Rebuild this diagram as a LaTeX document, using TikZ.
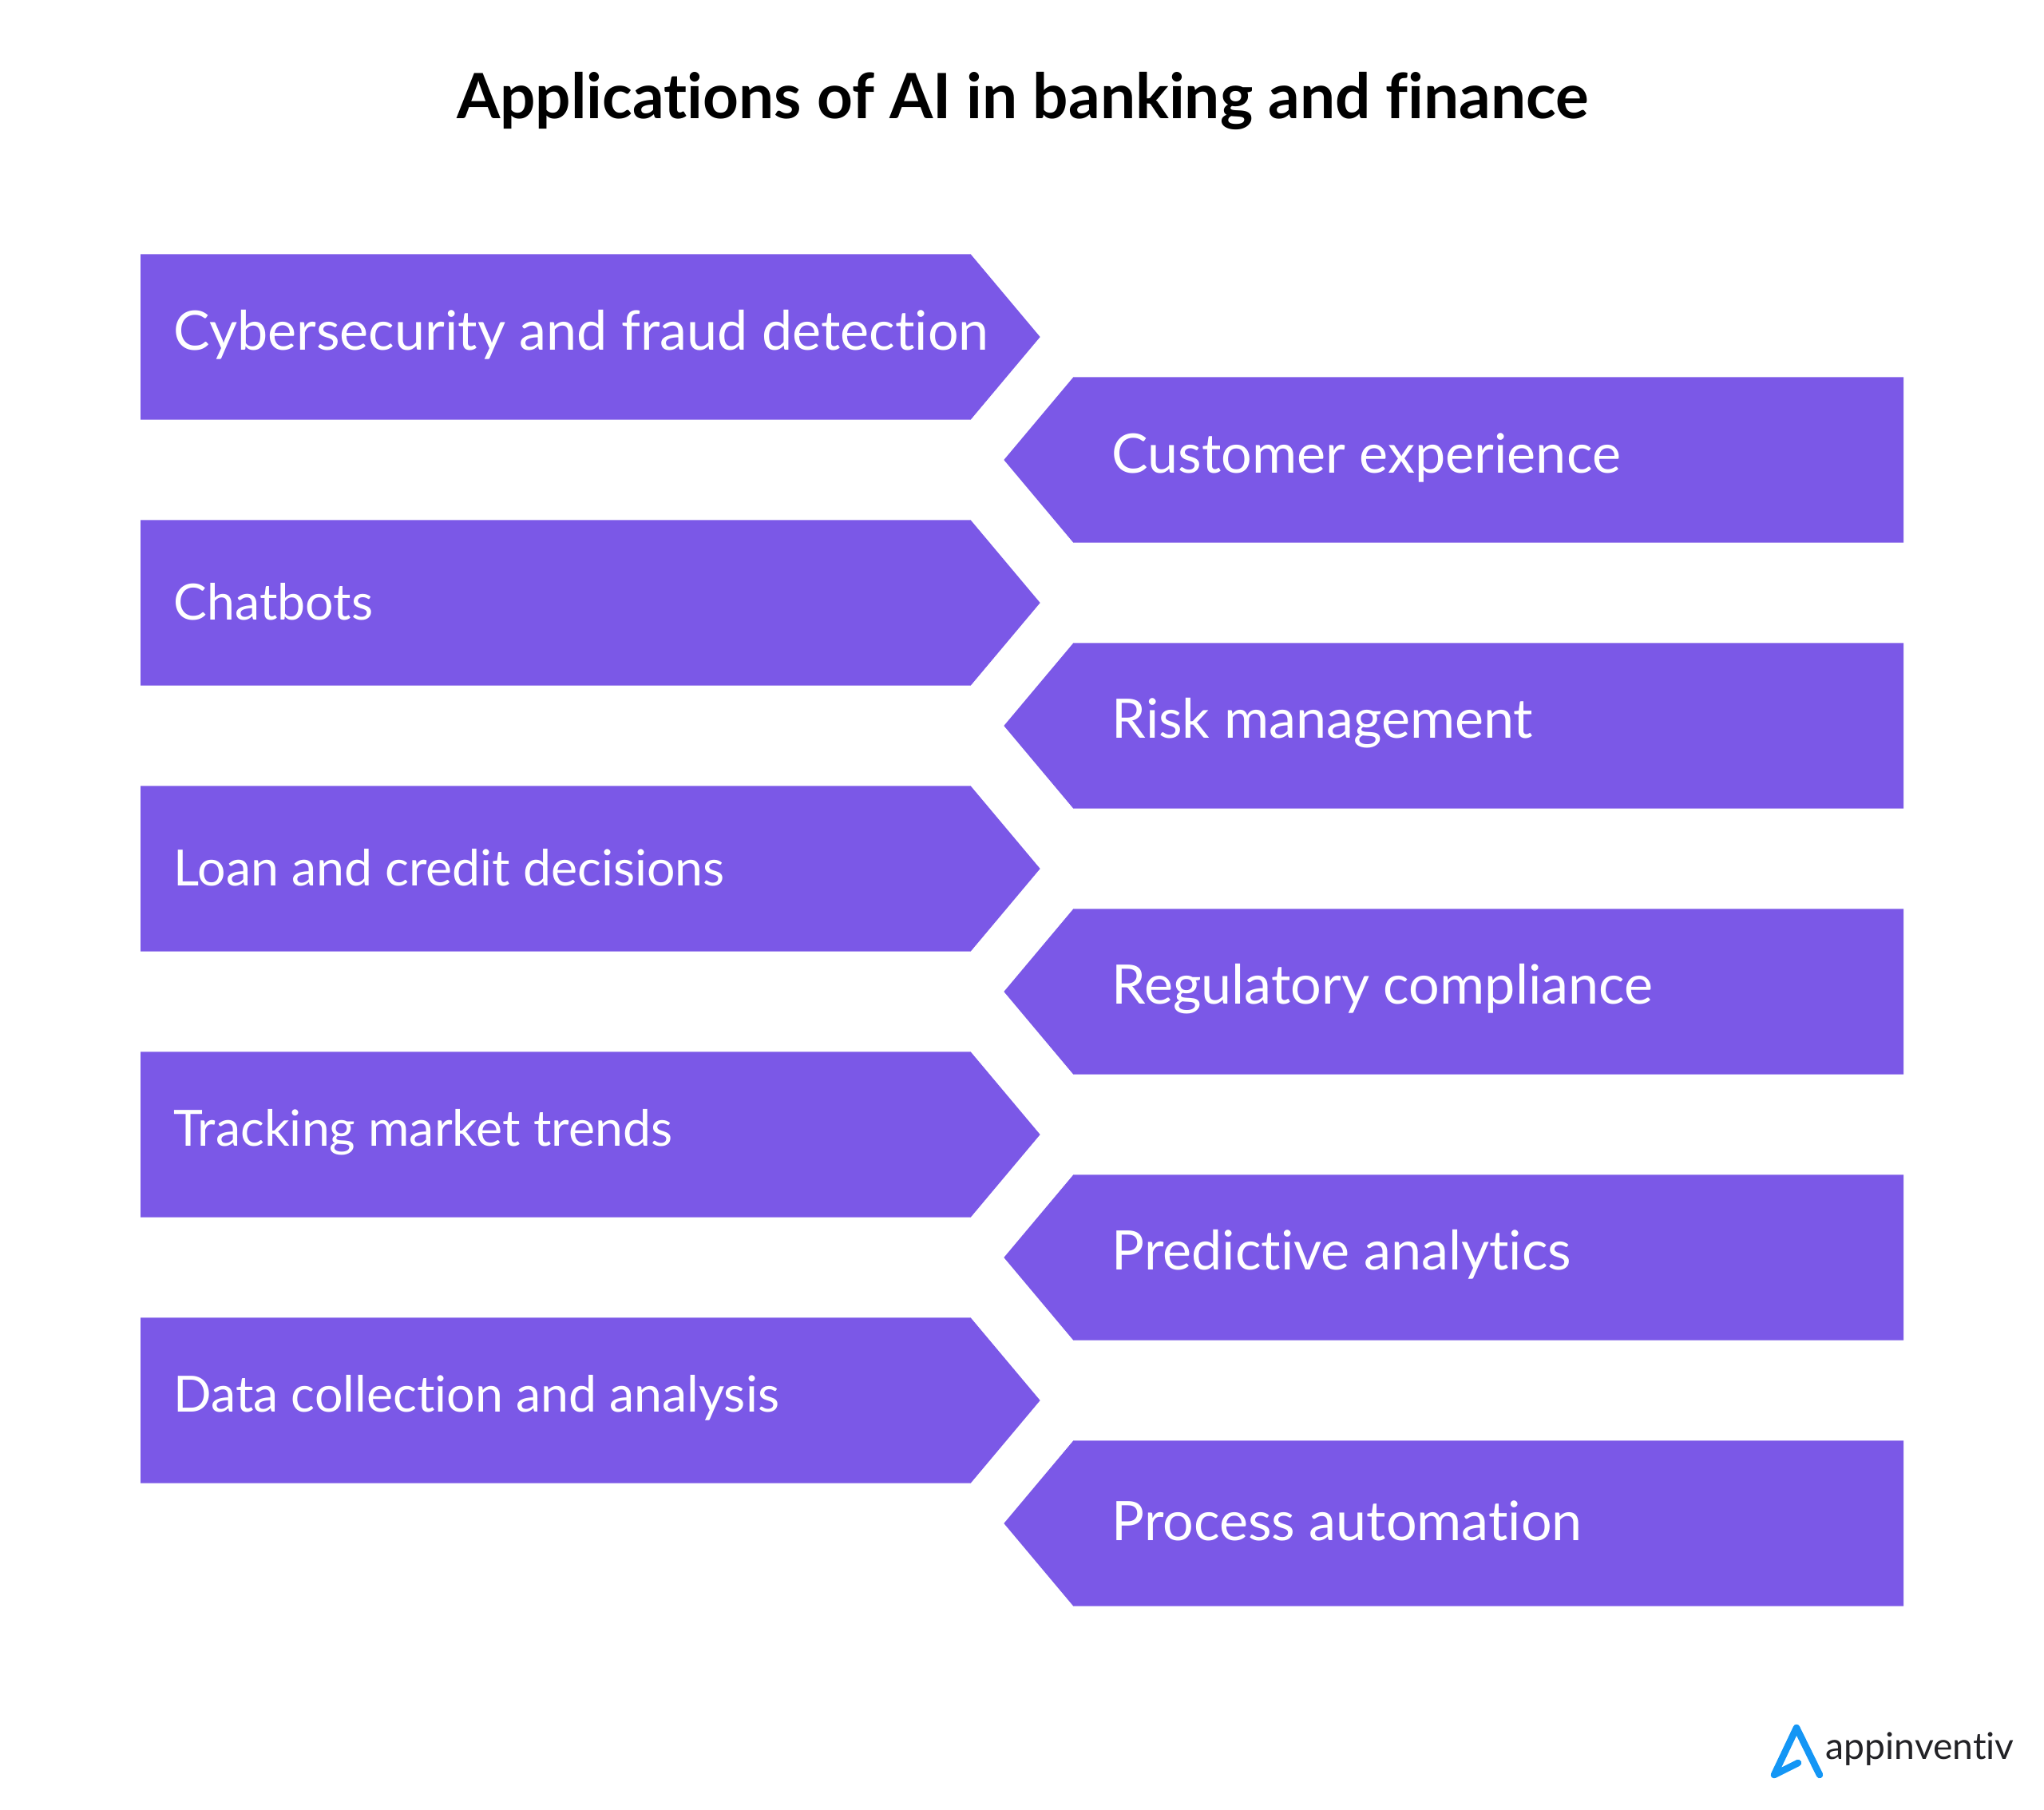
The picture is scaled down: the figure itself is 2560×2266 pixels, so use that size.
\documentclass[tikz,border=0pt]{standalone}
\usepackage{fontspec}
\setmainfont{Lato}[Ligatures=NoCommon]
\usetikzlibrary{shapes.symbols}
\definecolor{jviolet}{RGB}{123,88,231}
\definecolor{jsky}{RGB}{20,150,245}
\definecolor{jink}{RGB}{34,34,38}
\tikzset{x=0.01cm, y=-0.01cm,
  banner/.style={signal, fill=jviolet, signal from=nowhere, signal pointer angle=100,
    minimum width=11.26cm, minimum height=2.07cm, inner sep=0pt, outer sep=0pt},
  toright/.style={banner, signal to=east},
  toleft/.style={banner, signal to=west},
  caption/.style={anchor=base west, inner sep=0pt, text=white, font=\fontsize{19.4}{24}\selectfont},
  smallcaption/.style={caption, font=\fontsize{17.8}{22}\selectfont},
  mainhead/.style={anchor=base, inner sep=0pt, font=\fontsize{22.25}{28}\selectfont\bfseries}}
\begin{document}
\begin{tikzpicture}
\useasboundingbox (0,0) rectangle (2560,2266);
\node[mainhead] (head) at (1281,148) {Applications of AI in banking and finance};
% left column
\node[toright, anchor=west] (cyber) at (176,422) {};
\node[toright, anchor=west] (chat) at (176,755) {};
\node[toright, anchor=west] (loan) at (176,1088) {};
\node[toright, anchor=west] (market) at (176,1421) {};
\node[toright, anchor=west] (data) at (176,1754) {};
% right column
\node[toleft, anchor=east] (customer) at (2384,576) {};
\node[toleft, anchor=east] (risk) at (2384,909) {};
\node[toleft, anchor=east] (regulatory) at (2384,1242) {};
\node[toleft, anchor=east] (predictive) at (2384,1575) {};
\node[toleft, anchor=east] (process) at (2384,1908) {};
% captions
\node[caption] (cybertext) at (217,438) {Cybersecurity and fraud detection};
\node[smallcaption] (chattext) at (217,776) {Chatbots};
\node[smallcaption] (loantext) at (217,1109) {Loan and credit decisions};
\node[smallcaption] (markettext) at (217,1435) {Tracking market trends};
\node[smallcaption] (datatext) at (217,1768) {Data collection and analysis};
\node[caption] (customertext) at (1392,592) {Customer experience};
\node[caption] (risktext) at (1392,924) {Risk management};
\node[caption] (regulatorytext) at (1392,1257) {Regulatory compliance};
\node[caption] (predictivetext) at (1392,1590) {Predictive analytics};
\node[caption] (processtext) at (1392,1929) {Process automation};
% logo
\coordinate (logoa) at (2252,2208);
\coordinate (logob) at (2222,2223);
\coordinate (logoc) at (2250,2164);
\coordinate (logod) at (2279,2223);
\draw[jsky, line width=0.085cm, line cap=round, line join=round]
  (logoa) -- (logob) -- (logoc) -- (logod);
\node[anchor=base west, inner sep=0pt, text=jink, font=\fontsize{13.15}{16}\selectfont] (brand) at (2286,2203) {appinventiv};
\end{tikzpicture}
\end{document}
